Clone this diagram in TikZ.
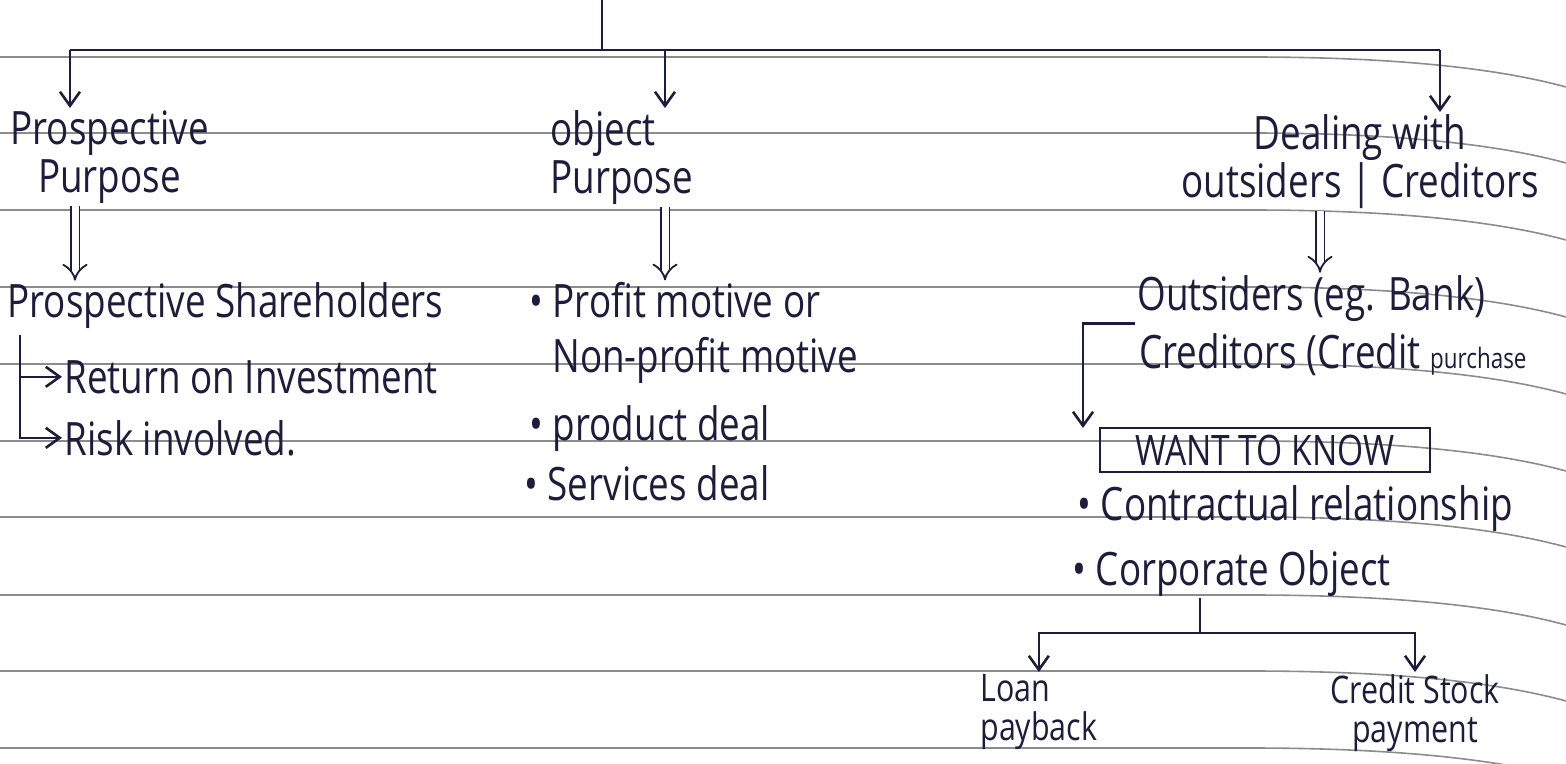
\documentclass[tikz,border=0pt]{standalone}
\usepackage{fontspec}
\setmainfont[FakeStretch=0.8]{Open Sans}
\usetikzlibrary{arrows.meta}
\definecolor{ink}{HTML}{1C1C3C}
\definecolor{rulecol}{HTML}{8C8C8C}
\begin{document}
\begin{tikzpicture}[x=0.5pt,y=-0.5pt,
  txt/.style={inner sep=1pt, text=ink, font=\fontsize{23}{24}\selectfont},
  small/.style={txt, font=\fontsize{19}{19.5}\selectfont},
  con/.style={draw=ink, line width=1.3pt},
  arr/.style={con, -{Straight Barb[length=7pt,width=10pt]}},
  dbl/.style={draw=ink, line width=0.9pt, double distance=3.5pt, -{Implies}},
  rl/.style={draw=rulecol, line width=0.8pt},
  boxed/.style={txt, draw=ink, line width=1.3pt, minimum width=165pt, minimum height=22pt, inner sep=2pt, font=\fontsize{21}{22}\selectfont}]
\useasboundingbox (0,0) rectangle (1566,764);
\clip (0,0) rectangle (1566,764);
\fill[white] (0,0) rectangle (1566,764);
% ruled paper
\foreach \yy in {57,133,210,287,364,441,517,595,671,748}
  \draw[rl] (0,\yy) -- (1250,\yy) .. controls (1400,\yy) and (1500,\yy+12) .. (1566,\yy+30);

% level 1
\node[txt, align=center, anchor=north west] (pp) at (8,108) {Prospective\\Purpose};
\node[txt, align=left, anchor=north west] (op) at (548,108) {object\\Purpose};
\node[txt, align=center, anchor=north, font=\fontsize{23}{20}\selectfont] (dw) at (1360,112) {Dealing with\\outsiders | Creditors};

% top bus
\coordinate (top) at (602,0);
\coordinate (hub) at (602,50);
\coordinate (b1) at (70,50);
\coordinate (b2) at (665,50);
\coordinate (b3) at (1440,50);
\draw[con] (top) -- (hub);
\draw[con] (b1) -- (b3);
\draw[arr] (b1) -- (b1 |- pp.north);
\draw[arr] (b2) -- (b2 |- op.north);
\draw[arr] (b3) -- (b3 |- dw.north);

% column 1
\node[txt, anchor=base west] (psh) at (5,318) {Prospective Shareholders};
\node[txt, anchor=base west] (roi) at (62,393) {Return on Investment};
\node[txt, anchor=base west] (risk) at (62,455) {Risk involved.};
\coordinate (s1) at (20,335);
\draw[arr] (s1) |- (roi.west);
\draw[arr] (s1) |- (risk.west);
\coordinate (d1) at (75,0);
\draw[dbl] (pp.south -| d1) -- (psh.north -| d1);

% column 2
\node[txt, anchor=base west] (pm) at (527,318) {\textbullet\ Profit motive or};
\node[txt, anchor=base west] (np) at (550,372) {Non-profit motive};
\node[txt, anchor=base west] (pd) at (527,440) {\textbullet\ product deal};
\node[txt, anchor=base west] (sd) at (522,500) {\textbullet\ Services deal};
\coordinate (d2) at (665,0);
\draw[dbl] (op.south -| d2) -- (pm.north -| d2);

% column 3
\node[txt, anchor=base west] (os) at (1135,310) {Outsiders (eg. Bank)};
\node[txt, anchor=base west] (cr) at (1137,368) {Creditors (Credit {\fontsize{14}{16}\selectfont purchase}};
\coordinate (d3) at (1320,0);
\draw[dbl] (dw.south -| d3) -- (os.north -| d3);
\node[boxed] (wk) at (1265,450) {WANT TO KNOW};
\coordinate (k1) at (1083,428);
\draw[arr] (os.south west) -| (k1);
\node[txt, anchor=base west] (ct) at (1075,520) {\textbullet\ Contractual relationship};
\node[txt, anchor=base west] (co) at (1070,585) {\textbullet\ Corporate Object};

% corporate object split
\node[small, align=left, anchor=north west] (loan) at (978,672) {Loan\\payback};
\node[small, align=center, anchor=north west] (cs) at (1328,672) {Credit Stock\\payment};
\coordinate (j1) at (1200,633);
\draw[con] (co.south -| j1) -- (j1);
\draw[arr] (j1) -| (loan.north);
\draw[arr] (j1) -| (cs.north);
\end{tikzpicture}
\end{document}
